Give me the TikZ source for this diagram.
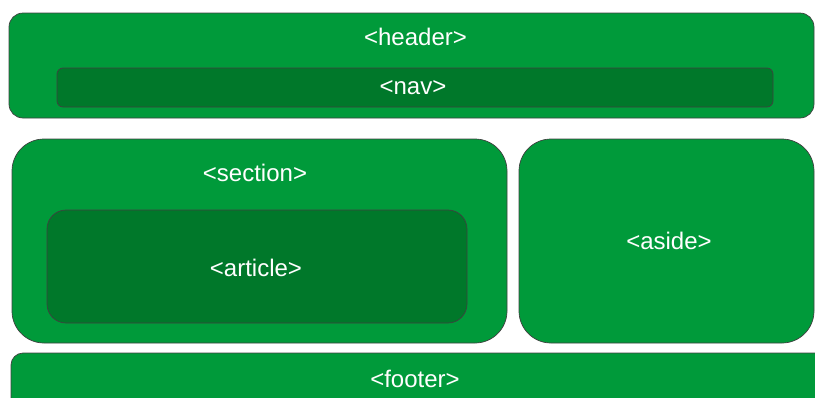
\documentclass[tikz,border=0pt]{standalone}
\usepackage{fontspec}
\setmainfont{Liberation Sans}
\definecolor{gmain}{RGB}{0,154,58}
\definecolor{gdark}{RGB}{0,120,42}
\begin{document}
\begin{tikzpicture}[x=1pt,y=-1pt,
  box/.style={draw=black!75,line width=0.7pt,fill=gmain,inner sep=0pt,outer sep=0pt},
  inner/.style={box,fill=gdark},
  lbl/.style={text=white,font=\fontsize{24}{28}\selectfont,inner sep=0pt}]
\useasboundingbox (0,0) rectangle (815,397);
\clip (0,0) rectangle (815,397);
\node[box,rounded corners=14pt,minimum width=805pt,minimum height=105pt] (header) at (411.5,65.5) {};
\node[inner,rounded corners=6pt,minimum width=716pt,minimum height=39pt] (nav) at (415,87.5) {};
\node[box,rounded corners=32pt,minimum width=495pt,minimum height=204pt] (section) at (259.5,241) {};
\node[inner,rounded corners=19pt,minimum width=420pt,minimum height=113pt] (article) at (257,266.5) {};
\node[box,rounded corners=32pt,minimum width=295pt,minimum height=204pt] (aside) at (666.5,241) {};
\node[box,rounded corners=12pt,minimum width=819pt,minimum height=67pt] (footer) at (420.5,386.5) {};
\node[lbl] (headerlbl) at (415.5,37) {<header>};
\node[lbl] (navlbl) at (413,88) {<nav>};
\node[lbl] (sectionlbl) at (255,173) {<section>};
\node[lbl] (articlelbl) at (256,268) {<article>};
\node[lbl] (asidelbl) at (669,241) {<aside>};
\node[lbl] (footerlbl) at (415,379) {<footer>};
\end{tikzpicture}
\end{document}
